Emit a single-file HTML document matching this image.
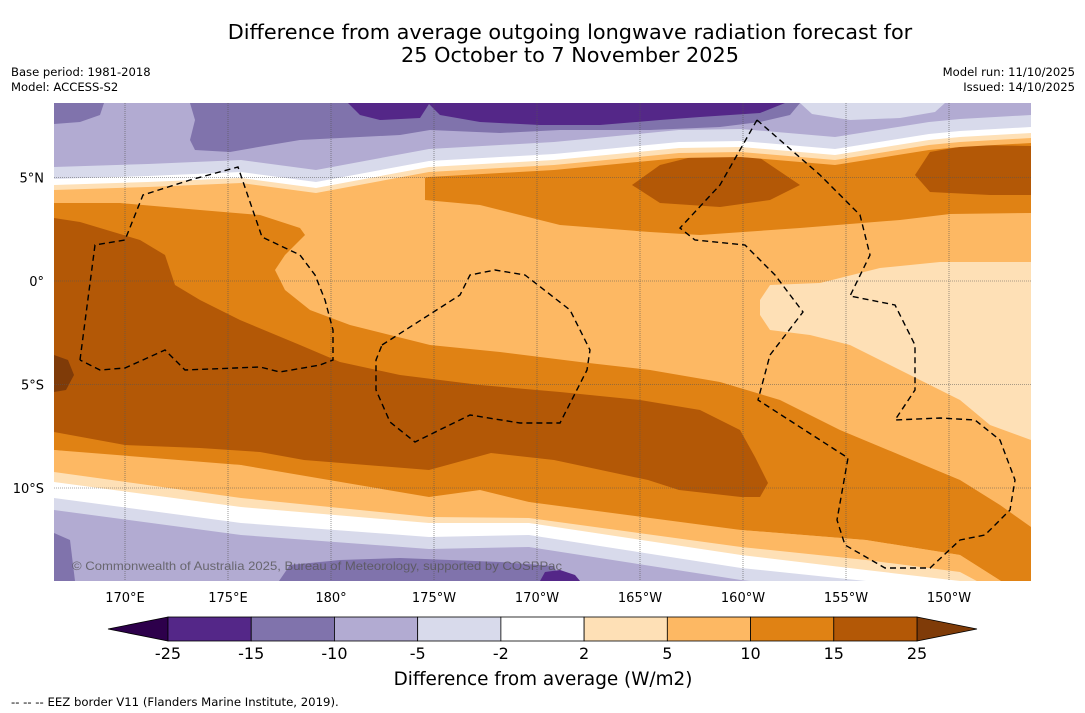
<!DOCTYPE html>
<html><head><meta charset="utf-8"><style>
body{margin:0;background:#fff;font-family:"DejaVu Sans","Liberation Sans",sans-serif;}
#wrap{position:relative;width:1085px;height:713px;overflow:hidden;background:#fff}
.t{position:absolute;white-space:nowrap;color:#000}
</style></head><body>
<div id="wrap">
<div class="t" style="left:0;width:1140px;text-align:center;top:21px;font-size:20.8px;line-height:23px">Difference from average outgoing longwave radiation forecast for<br>25 October to 7 November 2025</div>
<div class="t" style="left:11px;top:65px;font-size:11.6px;line-height:15px">Base period: 1981-2018<br>Model: ACCESS-S2</div>
<div class="t" style="right:10px;top:65px;font-size:11.6px;line-height:15px;text-align:right">Model run: 11/10/2025<br>Issued: 14/10/2025</div>
<svg id="svg" width="1085" height="713" style="position:absolute;left:0;top:0">
<defs><clipPath id="mc"><rect x="54" y="103" width="977" height="478"/></clipPath></defs>
<g clip-path="url(#mc)" id="map">
<rect x="54" y="103" width="977" height="478" fill="#fdb863"/>
<polygon fill="#e08214" points="425,103 1031,103 1031,213 950,214 900,220 800,228 700,235 650,232 560,225 480,205 425,200"/>
<polygon fill="#b35806" points="632,185 660,165 700,155 760,158 800,185 770,200 720,207 660,203"/>
<polygon fill="#b35806" points="915,175 930,152 970,145 1031,146 1031,195 990,195 930,192"/>
<polygon fill="#e08214" points="54,203 120,203 200,210 260,215 300,228 305,235 285,255 275,270 285,290 310,310 350,325 430,345 500,352 580,362 650,370 720,382 780,400 840,430 900,455 960,480 1000,505 1031,527 1031,600 960,555 866,540 741,530 680,528 616,523 580,515 529,502 480,490 429,497 350,495 300,487 241,465 150,460 54,450"/>
<polygon fill="#b35806" points="54,218 80,222 140,240 165,255 175,285 200,300 240,320 300,345 340,362 400,375 480,385 560,392 640,400 700,410 740,430 755,457 768,483 760,497 741,497 679,490 648,480 554,460 491,453 429,470 304,460 260,452 200,448 125,445 54,432"/>
<polygon fill="#7f3b08" points="54,355 68,360 74,375 66,390 54,392"/>
<polygon fill="#fee0b6" points="760,300 770,285 820,283 880,268 940,262 1031,262 1031,440 990,425 960,400 920,380 880,360 850,345 810,335 770,330 760,315"/>
<polygon id="b-lo" fill="#fdb863"/>
<polygon id="b-pa" fill="#fee0b6"/>
<polygon id="b-wh" fill="#ffffff"/>
<polygon id="b-d8" fill="#d8daeb"/>
<polygon id="b-b2" fill="#b2abd2"/>
<polygon fill="#8073ac" points="54,533 70,540 75,581 54,581"/>
<polygon fill="#8073ac" points="279,581 290,565 340,560 400,558 450,560 500,562 554,566 560,581"/>
<polygon fill="#542788" points="540,581 545,572 560,570 575,575 580,581"/>
<polygon id="t-lo" fill="#fdb863"/>
<polygon id="t-pa" fill="#fee0b6"/>
<polygon id="t-wh" fill="#ffffff"/>
<polygon id="t-d8" fill="#d8daeb"/>
<polygon id="t-b2" fill="#b2abd2"/>
<polygon fill="#d8daeb" points="800,103 812,114 850,120 900,118 935,112 945,103"/>
<polygon fill="#8073ac" points="54,103 104,103 100,115 80,122 54,124"/>
<polygon fill="#8073ac" points="190,103 195,120 190,140 195,150 230,152 270,145 300,140 340,138 400,135 430,130 500,133 560,130 650,130 720,127 760,122 790,115 800,103"/>
<polygon fill="#542788" points="348,103 360,115 380,120 420,118 429,104 440,115 480,122 540,125 600,125 660,120 700,117 760,113 785,103"/>
<g id="grid" stroke="#555" stroke-width="0.6" stroke-dasharray="1,1"></g>
<g fill="none" stroke="#000" stroke-width="1.4" stroke-dasharray="6,4">
<polyline points="80,360 95,245 125,240 143,195 190,180 238,167 262,237 300,255 315,275 325,300 333,330 333,360 320,365 280,372 260,367 185,370 165,350 125,368 100,370 80,360"/>
<polyline points="382,345 460,295 470,275 495,270 525,275 570,310 590,350 587,370 560,423 520,423 470,415 415,442 390,422 376,390 376,360 382,345"/>
<polyline points="757,120 720,185 680,228 695,240 745,245 775,275 803,312 770,355 758,400 848,458 837,520 845,545 885,568 930,568 960,540 985,535 1010,510 1015,480 1000,440 975,420 940,418 895,420 915,390 915,345 895,305 850,296 870,255 860,215 820,175 757,120"/>
</g>
<text x="72" y="570" font-size="12" fill="#555" fill-opacity="0.8" textLength="490" lengthAdjust="spacingAndGlyphs" font-family="Liberation Sans, sans-serif">© Commonwealth of Australia 2025, Bureau of Meteorology, supported by COSPPac</text>
</g>
<g id="axes" font-family="DejaVu Sans, sans-serif" font-size="13"></g>
<g id="cbar"></g>
<text x="543" y="685" text-anchor="middle" font-size="18.4" font-family="DejaVu Sans, sans-serif">Difference from average (W/m2)</text>
<text x="11" y="706" font-size="11.7" font-family="DejaVu Sans, sans-serif">--  --  -- EEZ border V11 (Flanders Marine Institute, 2019).</text>
</svg>
</div>
<script>
const lonLabels=["170°E","175°E","180°","175°W","170°W","165°W","160°W","155°W","150°W"];
const lonValues=[170,175,180,185,190,195,200,205,210];
const latLabels=["5°N","0°","5°S","10°S"];
const latValues=[5,0,-5,-10];
const cbTicks=["-25","-15","-10","-5","-2","2","5","10","15","25"];
const cbColors=["#542788","#8073ac","#b2abd2","#d8daeb","#ffffff","#fee0b6","#fdb863","#e08214","#b35806"];
const cbUnder="#2d004b", cbOver="#7f3b08";
const northX=[54,148,241,316,429,554,679,741,835,929,960,1031];
const northT=[185,182,178,188,167,160,148,147,155,140,137,133];
const southX=[54,241,429,529,741,866,960,1031];
const southOr=[450,465,497,502,530,540,555,600];
const southLo=[472,498,517,518,547,560,572,610];
const southPa=[482,507,523,523,555,570,581,615];
const southWh=[498,523,537,535,568,581,595,620];
const NS="http://www.w3.org/2000/svg";
const xLon=v=>125+(v-170)*20.6;
const yLat=v=>281-v*20.7;
function pts(xs,ys,off){return xs.map((x,i)=>x+","+(ys[i]+off)).join(" ");}
function topPoly(id,off){document.getElementById(id).setAttribute("points","54,103 "+pts(northX,northT,off)+" 1031,103");}
topPoly("t-lo",10);topPoly("t-pa",5);topPoly("t-wh",0);topPoly("t-d8",-6);topPoly("t-b2",-18);
function botPoly(id,ys){document.getElementById(id).setAttribute("points",pts(southX,ys,0)+" 1031,640 54,640");}
botPoly("b-lo",southOr);botPoly("b-pa",southLo);botPoly("b-wh",southPa);botPoly("b-d8",southWh);
botPoly("b-b2",southWh.map(v=>v+12));
const grid=document.getElementById("grid"),axes=document.getElementById("axes");
lonValues.forEach((v,i)=>{const x=xLon(v);
 const l=document.createElementNS(NS,"line");l.setAttribute("x1",x);l.setAttribute("x2",x);l.setAttribute("y1",103);l.setAttribute("y2",581);
 
 grid.appendChild(l);
 const t=document.createElementNS(NS,"text");t.setAttribute("x",x);t.setAttribute("y",602);t.setAttribute("text-anchor","middle");t.textContent=lonLabels[i];
 
 axes.appendChild(t);});
latValues.forEach((v,i)=>{const y=yLat(v);
 const l=document.createElementNS(NS,"line");l.setAttribute("x1",54);l.setAttribute("x2",1031);l.setAttribute("y1",y);l.setAttribute("y2",y);
 
 grid.appendChild(l);
 const t=document.createElementNS(NS,"text");t.setAttribute("x",44);t.setAttribute("y",y+5);t.setAttribute("text-anchor","end");t.textContent=latLabels[i];
 
 axes.appendChild(t);});
const cb=document.getElementById("cbar");const cx0=168,cw=(917-168)/cbColors.length,cy=617,ch=24;
const under=document.createElementNS(NS,"polygon");under.setAttribute("points",`${cx0},${cy} 108,${cy+ch/2} ${cx0},${cy+ch}`);under.setAttribute("fill",cbUnder);under.setAttribute("stroke","#000");under.setAttribute("stroke-width","0.8");

cb.appendChild(under);
const over=document.createElementNS(NS,"polygon");over.setAttribute("points",`917,${cy} 977,${cy+ch/2} 917,${cy+ch}`);over.setAttribute("fill",cbOver);over.setAttribute("stroke","#000");over.setAttribute("stroke-width","0.8");

cb.appendChild(over);
cbColors.forEach((c,i)=>{const r=document.createElementNS(NS,"rect");r.setAttribute("x",cx0+i*cw);r.setAttribute("y",cy);r.setAttribute("width",cw);r.setAttribute("height",ch);r.setAttribute("fill",c);r.setAttribute("stroke","#000");r.setAttribute("stroke-width","0.8");
 
 cb.appendChild(r);});
cbTicks.forEach((s,i)=>{const t=document.createElementNS(NS,"text");t.setAttribute("x",cx0+i*cw);t.setAttribute("y",659);t.setAttribute("text-anchor","middle");t.setAttribute("font-size","16");t.setAttribute("font-family","DejaVu Sans, sans-serif");t.textContent=s;
 
 cb.appendChild(t);});
</script>
</body></html>
